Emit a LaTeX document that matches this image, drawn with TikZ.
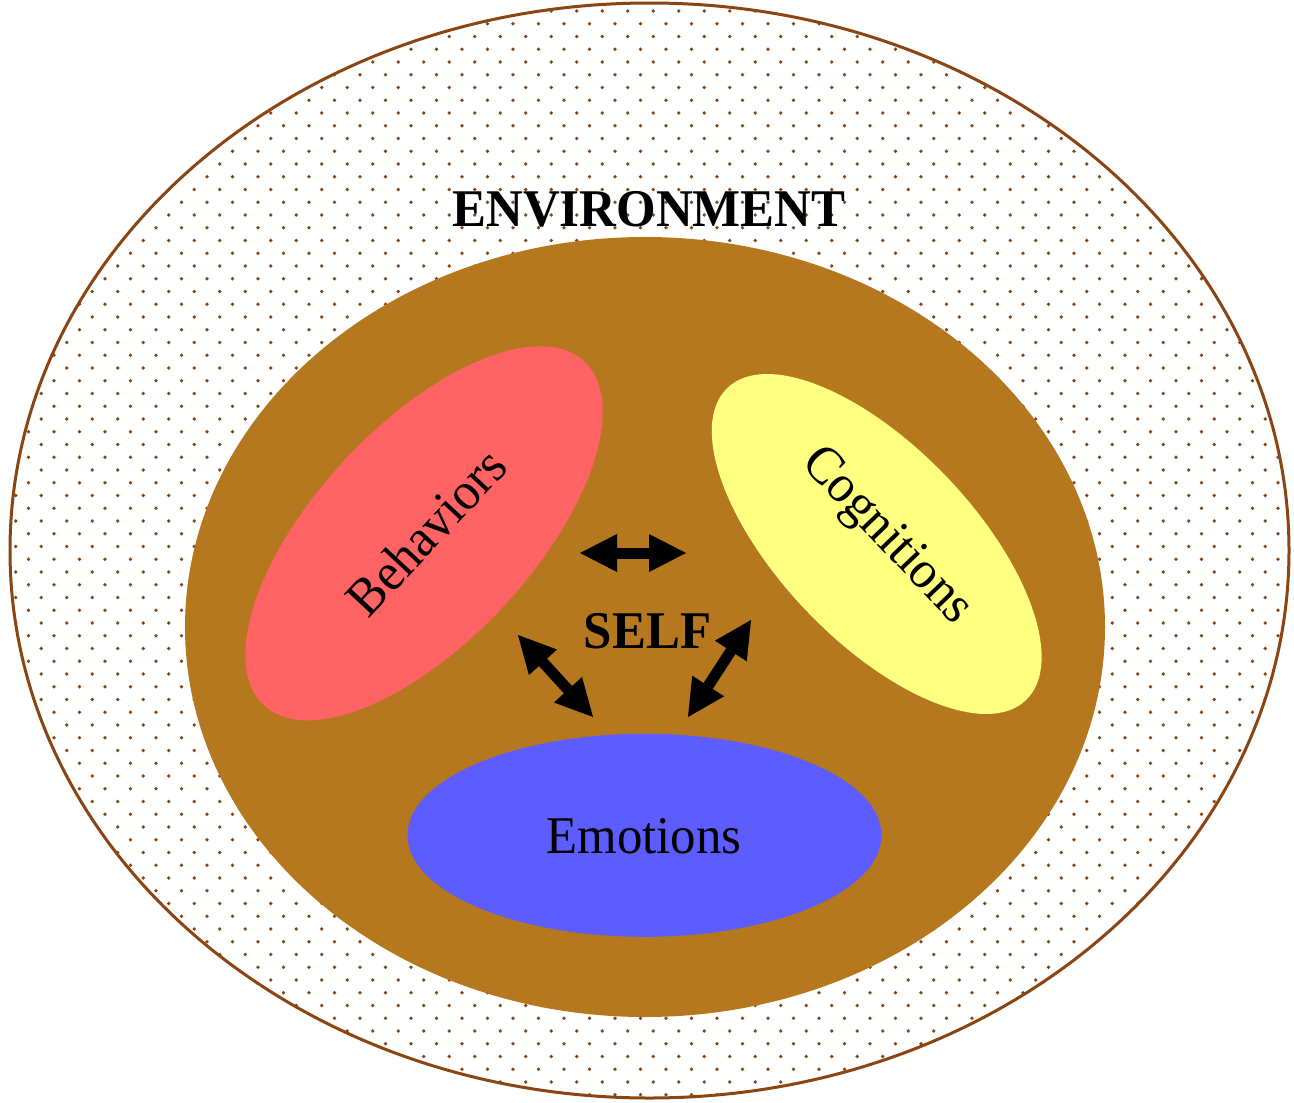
\documentclass[tikz,border=0pt]{standalone}
\usepackage{fontspec}
\setmainfont{Liberation Serif}[FakeStretch=0.96]
\usetikzlibrary{shapes.geometric,arrows.meta}
\definecolor{envline}{HTML}{8B4513}
\definecolor{envdot}{HTML}{8B4513}
\definecolor{selffill}{HTML}{B5781F}
\definecolor{behfill}{HTML}{FF6363}
\definecolor{cogfill}{HTML}{FFFF80}
\definecolor{emofill}{HTML}{5C5CFF}

\begin{document}
\begin{tikzpicture}[x=1pt,y=-1pt,
  blob/.style={ellipse, inner sep=0pt, outer sep=0pt},
  word/.style={font=\fontsize{53}{60}\selectfont, inner sep=0pt},
  bigword/.style={inner sep=0pt, font=\fontsize{53}{60}\selectfont\bfseries},
  link/.style={line width=11pt,
    {Triangle[length=37pt,width=38pt,line width=0pt]}-{Triangle[length=37pt,width=38pt,line width=0pt]}}
]
% canvas
\fill[white] (0,0) rectangle (1294,1103);
\useasboundingbox (0,0) rectangle (1294,1103);

% dotted environment ring
\begin{scope}
  \clip (649.5,550.5) ellipse [x radius=639.5pt, y radius=547.5pt];
  \foreach \r in {-9,...,78}{
    \pgfmathsetmacro{\yy}{113+12.75*\r}
    \pgfmathsetmacro{\xo}{270.7-12.75*mod(\r+10,2)}
    \foreach \k in {-11,...,41}{
      \pgfmathsetmacro{\xx}{\xo+25.5*\k}
      \fill[envdot] (\xx,\yy) circle[radius=1.9pt];
    }
  }
\end{scope}

% ellipses
\node[blob, draw=envline, line width=3pt, minimum width=1279pt, minimum height=1095pt] (env) at (649.5,550.5) {};
\node[blob, fill=selffill, minimum width=920pt, minimum height=780pt] (self) at (645,627) {};
\node[blob, fill=behfill, minimum width=470pt, minimum height=216pt, rotate=47] (beh) at (424,533.3) {};
\node[blob, fill=cogfill, minimum width=432pt, minimum height=194pt, rotate=-46.3] (cog) at (876.7,544) {};
\node[blob, fill=emofill, minimum width=474pt, minimum height=203pt] (emo) at (644.5,835.3) {};

% labels
\node[bigword, anchor=base] (envtext) at (649,226.7) {ENVIRONMENT};
\node[bigword, anchor=base] (selftext) at (647.5,648) {SELF};
\node[word, rotate=47] (behtext) at (426,532) {Behaviors};
\node[word, rotate=-46.3] (cogtext) at (886,537) {Cognitions};
\node[word, anchor=base] (emotext) at (644,853) {Emotions};

% two-way arrows
\coordinate (h1) at (580,553);
\coordinate (h2) at (686,553);
\coordinate (l1) at (518,635);
\coordinate (l2) at (593,717);
\coordinate (r1) at (751,620);
\coordinate (r2) at (688,717);
\draw[link] (h1) -- (h2);
\draw[link] (l1) -- (l2);
\draw[link] (r1) -- (r2);
\end{tikzpicture}
\end{document}
